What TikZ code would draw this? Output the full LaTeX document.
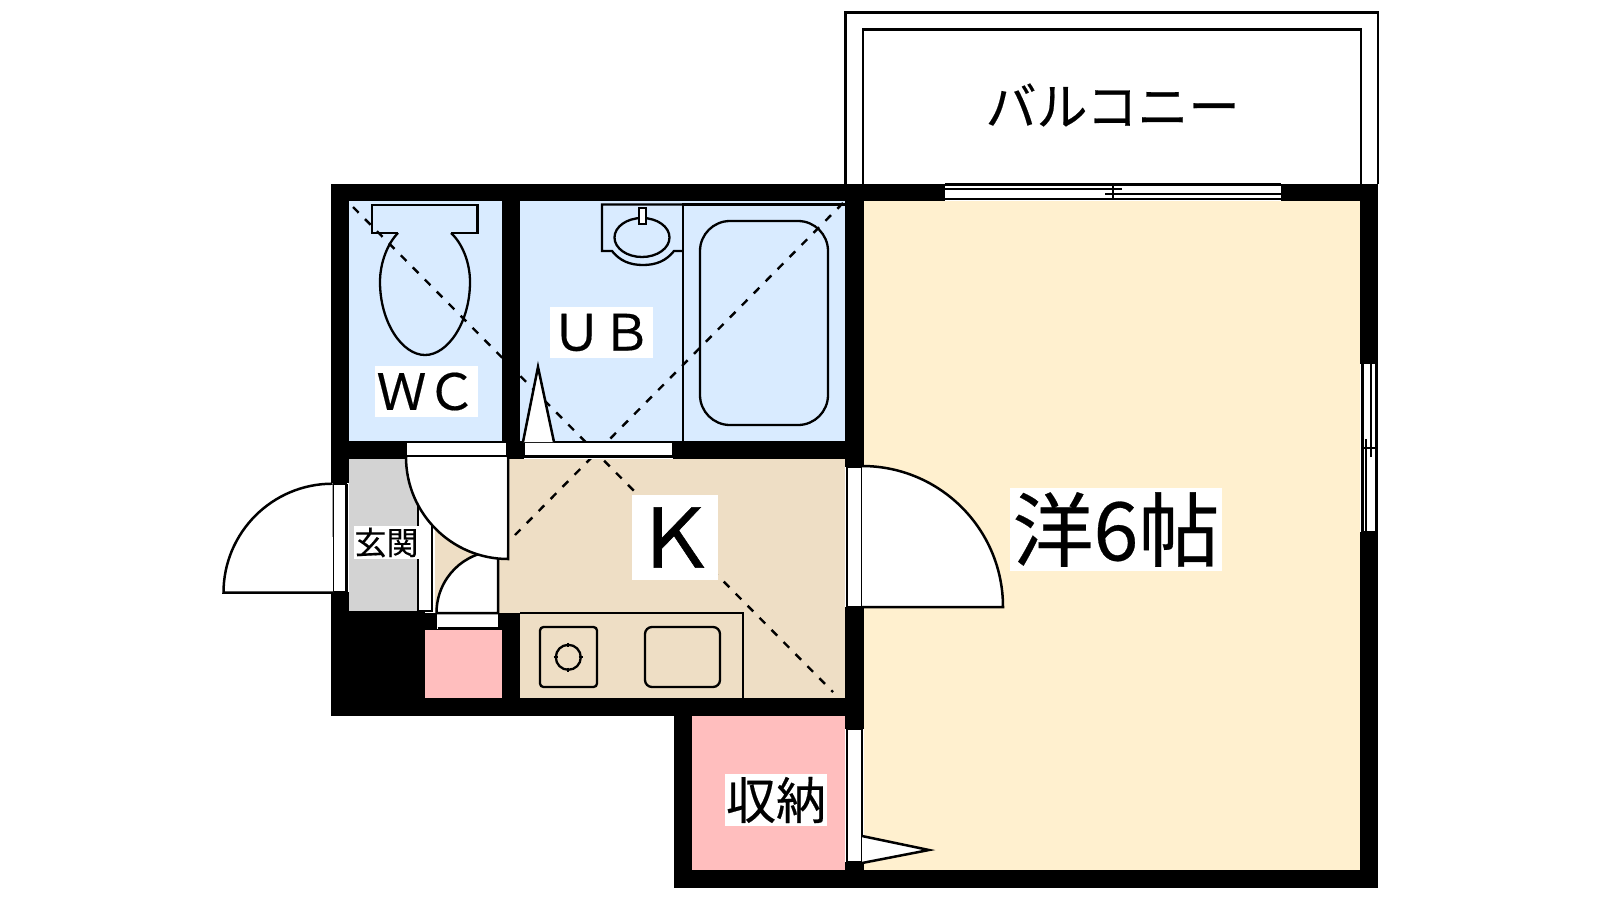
\documentclass[tikz,border=0pt]{standalone}
\usepackage{fontspec}
\newfontfamily\cjk[FakeBold=0.35]{Noto Sans CJK JP}
\newfontfamily\cjkbold[FakeBold=0.7]{Noto Sans CJK JP}
\definecolor{roomblue}{HTML}{D9EBFF}
\definecolor{roomtan}{HTML}{EEDEC5}
\definecolor{roomcream}{HTML}{FFF0CF}
\definecolor{roompink}{HTML}{FFBEBE}
\definecolor{roomgray}{HTML}{D3D3D3}
\tikzset{
  wallfill/.style={fill=black},
  ln/.style={draw=black,line width=2.5pt,line join=miter},
  thin ln/.style={draw=black,line width=2.3pt},
  whitefill/.style={ln,fill=white},
  guide/.style={draw=black,line width=2.4pt,dash pattern=on 8pt off 9pt},
  label/.style={fill=white,inner sep=0pt,text=black,font=\cjk},
}
\begin{document}
\begin{tikzpicture}[x=1pt,y=-1pt]
\useasboundingbox (0,0) rectangle (1600,900);
\fill[white] (0,0) rectangle (1600,900);
% rooms
\fill[roomcream] (864,201) rectangle (1360,870);
\fill[roomblue] (349,201) rectangle (502,441);
\fill[roomblue] (520,201) rectangle (845,441);
\fill[roomtan] (435,459) rectangle (845,698);
\fill[roomgray] (349,459) rectangle (418,612);
\fill[white] (418,459) rectangle (435,612);
\fill[roompink] (692,716) rectangle (845,870);
\fill[roompink] (425,630) rectangle (502,698);
% named ends of the guide lines
\coordinate (dA1) at (353,207);
\coordinate (dA2) at (833,692);
\coordinate (dB1) at (843,203);
\coordinate (dB2) at (515,535);
\draw[guide] (dA1) -- (dA2);
\draw[guide] (dB1) -- (dB2);
% toilet
\draw[thin ln] (372,205) rectangle (477.5,233);
\fill[roomblue] (398,232) rectangle (451,234.5);
\draw[thin ln] (372,233) -- (398,233);
\draw[thin ln] (451,233) -- (477.5,233);
\draw[thin ln] (398,233) .. controls (388,243) and (380,262) .. (380,282)
  .. controls (380,322) and (402,355) .. (425,355)
  .. controls (448,355) and (470,322) .. (470,282)
  .. controls (470,262) and (462,243) .. (451,233);
% unit bath
\draw[thin ln] (683,441) -- (683,204.5) -- (845,204.5);
\draw[thin ln] (683,204.5) -- (602,204.5) -- (602,251) -- (612,251)
  .. controls (620,261) and (630,265) .. (643,265)
  .. controls (656,265) and (666,261) .. (674,251) -- (683,251);
\draw[thin ln] (642,237.5) ellipse [x radius=27.5pt, y radius=19.5pt];
\draw[thin ln,fill=white] (639,208) rectangle (646,224);
\draw[thin ln,rounded corners=30pt] (700,221) rectangle (828,425);
% kitchen counter
\draw[thin ln] (520,613) -- (743,613) -- (743,698);
\draw[thin ln,rounded corners=3.5pt] (540,627) rectangle (597,687);
\draw[thin ln] (568.3,657.3) circle [radius=12.5pt];
\draw[thin ln] (553.5,657.3) -- (558,657.3) (578.6,657.3) -- (583,657.3)
  (568.3,642.5) -- (568.3,647) (568.3,667.6) -- (568.3,672);
\draw[thin ln,rounded corners=7pt] (645,627) rectangle (720,687);
% walls
\fill[wallfill] (331,183.5) rectangle (1378,201);
\fill[wallfill] (331,183.5) rectangle (349,715.5);
\fill[wallfill] (502,201) rectangle (520,459);
\fill[wallfill] (349,441) rectangle (864,459);
\fill[wallfill] (845,183.5) rectangle (864,887.5);
\fill[wallfill] (1360,183.5) rectangle (1378,887.5);
\fill[wallfill] (331,611) rectangle (425,715.5);
\fill[wallfill] (425,612.5) rectangle (520,630);
\fill[wallfill] (502,612.5) rectangle (520,698);
\fill[wallfill] (331,698) rectangle (864,715.5);
\fill[wallfill] (674,698) rectangle (692,887.5);
\fill[wallfill] (674,870) rectangle (1378,887.5);
% balcony
\draw[ln] (845.5,183.5) -- (845.5,12.5) -- (1378,12.5) -- (1378,183.5);
\draw[ln] (863,183.5) -- (863,29.5) -- (1361,29.5) -- (1361,183.5);
% top window
\fill[white] (945,185) rectangle (1281,201);
\draw[thin ln] (945,184.5) -- (1281,184.5);
\draw[thin ln] (945,199) -- (1281,199);
\draw[thin ln] (945,188.7) -- (1122,188.7);
\draw[thin ln] (1105,194) -- (1281,194);
\draw[thin ln] (1113,184.5) -- (1113,199);
% right window
\fill[white] (1360,364) rectangle (1377,532);
\draw[thin ln] (1362.5,364) -- (1362.5,532);
\draw[thin ln] (1376,364) -- (1376,532);
\draw[thin ln] (1371,364) -- (1371,456.5);
\draw[thin ln] (1366,439) -- (1366,532);
\draw[thin ln] (1362.5,448) -- (1376,448);
\draw[thin ln] (1362.5,532) -- (1376,532);
% front door
\fill[white] (331,483) rectangle (349,592);
\draw[ln] (333,484) -- (333,592) (346.5,484) -- (346.5,592);
\draw[ln] (333,592.5) -- (346.5,592.5);
\draw[whitefill] (333,592.7) -- (223.5,592.7)
  .. controls (223.5,532.5) and (272.3,483.7) .. (332.5,483.7);
\draw[thin ln] (333,484) -- (346.5,484);
% strip between entry and kitchen
\draw[ln] (418,470) -- (418,611) -- (432,611) -- (432,470);
% door towards the small closet
\fill[white] (437,613) rectangle (498,629);
\draw[ln] (437.5,628) -- (497.5,628);
\draw[whitefill] (436.5,613) .. controls (436.5,578.5) and (464,551) .. (498,551)
  -- (498,613) -- cycle;
% openings into WC and UB
\fill[white] (406,441) rectangle (508,459);
\draw[ln] (406,456.5) rectangle (507.5,442);
\fill[white] (524,441) rectangle (673,459);
\draw[ln] (524,456.5) rectangle (673,442);
\fill[wallfill] (508,441) rectangle (524,459);
\draw[whitefill] (523,442) -- (538,367) -- (554,442);
% door of the WC
\draw[whitefill] (406,457) .. controls (406,513.3) and (451.7,559) .. (508,559)
  -- (508,457);
\fill[white] (407.5,458) -- (506.5,458) -- (506.5,550) -- (420,500) -- cycle;
% door into the room
\fill[white] (845,467) rectangle (864,607);
\draw[ln] (847,467) rectangle (862,607);
\draw[whitefill] (862,466) .. controls (939.9,466) and (1003,529.1) .. (1003,607) -- (862,607);
% door of the storage
\fill[white] (845,729) rectangle (864,862);
\draw[ln] (847,729) rectangle (862,862.5);
\draw[whitefill] (862,836) -- (929,850) -- (862,863);
% labels
\node[font=\cjk,text=black,inner sep=0pt] (balcony) at (1112.5,105) {\fontsize{51}{60}\selectfont バルコニー};
\node[label,minimum width=212pt,minimum height=83pt] (yo) at (1116,529.5) {\fontsize{81}{90}\selectfont 洋6帖};
\node[label,minimum width=86pt,minimum height=85pt,font=\cjkbold] (kit) at (675,537.5) {\fontsize{82}{90}\selectfont Ｋ};
\node[label,minimum width=103pt,minimum height=51pt] (ub) at (601.5,332.5) {\fontsize{50}{60}\selectfont ＵＢ};
\node[label,minimum width=103pt,minimum height=51pt] (wc) at (426.5,391.5) {\fontsize{50}{60}\selectfont ＷＣ};
\node[label,minimum width=65pt,minimum height=33pt] (genkan) at (386.5,542.5) {\fontsize{32}{36}\selectfont 玄関};
\node[label,minimum width=102pt,minimum height=52pt] (shuno) at (776,800) {\fontsize{50}{60}\selectfont 収納};
\end{tikzpicture}
\end{document}
